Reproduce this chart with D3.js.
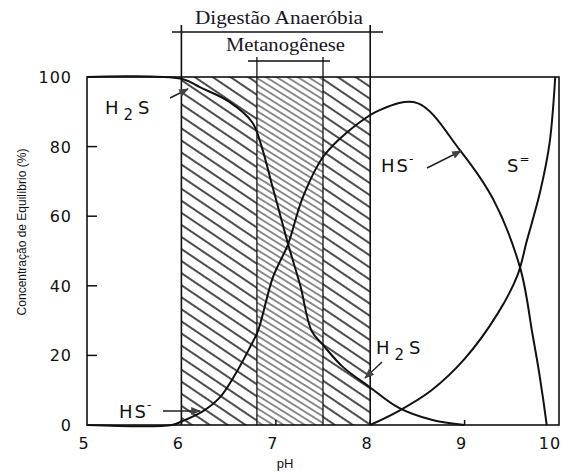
<!DOCTYPE html>
<html>
<head>
<meta charset="utf-8">
<script src="https://cdn.jsdelivr.net/npm/d3@7"></script>
<style>
  body { margin: 0; background: #fff; }
  text { font-family: "DejaVu Sans", "Liberation Sans", Arial, sans-serif; fill: #111; }
  .serif { font-family: "Liberation Serif", "Times New Roman", serif; fill: #1a1424; }
  .title { font-family: "Liberation Sans", Arial, sans-serif; }
</style>
</head>
<body>
<svg></svg>
<script>
const width = 565;
const height = 473;

// curve readings: [pH, % of equilibrium]
const h2s = [[5.0, 100], [6.0, 99.5], [6.2, 97], [6.5, 93], [6.75, 87], [6.85, 80], [6.95, 70],
  [7.04, 61], [7.13, 52], [7.26, 40], [7.38, 27], [7.5, 23], [7.71, 16.7], [7.99, 11],
  [8.3, 5], [8.65, 1.5], [9.0, 0]];
const hs = [[5.0, 0], [5.9, 0], [6.0, 1], [6.23, 4], [6.41, 8], [6.58, 15], [6.72, 22], [6.81, 27],
  [6.97, 42.5], [7.13, 52], [7.28, 65], [7.5, 77], [7.75, 84], [8.1, 90.5], [8.5, 92.5],
  [8.95, 79], [9.3, 65], [9.59, 45], [9.72, 26], [9.79, 15], [9.87, 0]];
const s2 = [[8.0, 0], [8.3, 4], [8.65, 10], [9.0, 19], [9.35, 32], [9.56, 43], [9.66, 53],
  [9.8, 67], [9.9, 81], [9.96, 100]];

const xTicks = [5, 6, 7, 8, 9, 10];
const yTicks = [0, 20, 40, 60, 80, 100];
const digestao = [6, 8];
const metano = [6.8, 7.5];

const svg = d3.select("svg")
    .attr("width", width)
    .attr("height", height);

const x = d3.scaleLinear().domain([5, 10]).range([87, 559]);
const y = d3.scaleLinear().domain([0, 100]).range([425, 77]);

// hatch patterns
const defs = svg.append("defs");
defs.append("pattern")
    .attr("id", "hatchWide")
    .attr("patternUnits", "userSpaceOnUse")
    .attr("width", 10).attr("height", 10)
    .attr("patternTransform", "rotate(34)")
  .append("line")
    .attr("x1", 0).attr("y1", 5).attr("x2", 10).attr("y2", 5)
    .attr("stroke", "#111").attr("stroke-width", 1.5);
defs.append("pattern")
    .attr("id", "hatchDense")
    .attr("patternUnits", "userSpaceOnUse")
    .attr("width", 5.6).attr("height", 5.6)
    .attr("patternTransform", "rotate(32)")
  .append("line")
    .attr("x1", 0).attr("y1", 2.8).attr("x2", 5.6).attr("y2", 2.8)
    .attr("stroke", "#333").attr("stroke-width", 1.1);

const yTop = y(100), yBottom = y(0);

svg.append("rect")
    .attr("x", x(digestao[0])).attr("y", yTop)
    .attr("width", x(metano[0]) - x(digestao[0])).attr("height", yBottom - yTop)
    .attr("fill", "url(#hatchWide)");
svg.append("rect")
    .attr("x", x(metano[1])).attr("y", yTop)
    .attr("width", x(digestao[1]) - x(metano[1])).attr("height", yBottom - yTop)
    .attr("fill", "url(#hatchWide)");
svg.append("rect")
    .attr("x", x(metano[0])).attr("y", yTop)
    .attr("width", x(metano[1]) - x(metano[0])).attr("height", yBottom - yTop)
    .attr("fill", "url(#hatchDense)");

// frame
svg.append("rect")
    .attr("x", x(5)).attr("y", yTop)
    .attr("width", x(10) - x(5)).attr("height", yBottom - yTop)
    .attr("fill", "none").attr("stroke", "#111").attr("stroke-width", 1.6);

// inward ticks
svg.selectAll(".ytick")
    .data(yTicks.filter(d => d > 0 && d < 100))
    .enter().append("line")
    .attr("x1", x(5)).attr("x2", x(5) + 10)
    .attr("y1", d => y(d)).attr("y2", d => y(d))
    .attr("stroke", "#111").attr("stroke-width", 1.5);
svg.selectAll(".xtick")
    .data(xTicks.filter(d => d > 5 && d < 10))
    .enter().append("line")
    .attr("x1", d => x(d)).attr("x2", d => x(d))
    .attr("y1", yBottom).attr("y2", yBottom - 5)
    .attr("stroke", "#111").attr("stroke-width", 1.5);

svg.selectAll(".ylab")
    .data(yTicks)
    .enter().append("text")
    .attr("x", 72).attr("y", d => y(d) + 6)
    .attr("text-anchor", "end")
    .attr("font-size", 16)
    .attr("letter-spacing", 1)
    .text(d => d);
svg.selectAll(".xlab")
    .data(xTicks)
    .enter().append("text")
    .attr("x", d => Math.min(x(d) - 3, 550)).attr("y", 449)
    .attr("text-anchor", "middle")
    .attr("font-size", 16)
    .attr("letter-spacing", 1)
    .text(d => d);

svg.append("text").attr("class", "title")
    .attr("x", 285).attr("y", 468)
    .attr("text-anchor", "middle")
    .attr("font-size", 13)
    .text("pH");
svg.append("text").attr("class", "title")
    .attr("transform", "translate(26,232) rotate(-90)")
    .attr("text-anchor", "middle")
    .attr("font-size", 12)
    .text("Concentração de Equilíbrio (%)");

// brackets
const bk = "#111";
svg.append("line").attr("x1", 172).attr("x2", 383).attr("y1", 32).attr("y2", 32)
    .attr("stroke", bk).attr("stroke-width", 1.6);
digestao.forEach(p => svg.append("line")
    .attr("x1", x(p)).attr("x2", x(p)).attr("y1", 25).attr("y2", yBottom)
    .attr("stroke", bk).attr("stroke-width", 1.6));
svg.append("line").attr("x1", 248).attr("x2", 330).attr("y1", 61).attr("y2", 61)
    .attr("stroke", bk).attr("stroke-width", 1.6);
metano.forEach(p => svg.append("line")
    .attr("x1", x(p)).attr("x2", x(p)).attr("y1", 57).attr("y2", yBottom)
    .attr("stroke", bk).attr("stroke-width", 1.3));

svg.append("text").attr("class", "serif")
    .attr("x", 195).attr("y", 24)
    .attr("font-size", 19)
    .attr("textLength", 168).attr("lengthAdjust", "spacingAndGlyphs")
    .text("Digestão Anaeróbia");
svg.append("text").attr("class", "serif")
    .attr("x", 226).attr("y", 51)
    .attr("font-size", 19)
    .attr("textLength", 119).attr("lengthAdjust", "spacingAndGlyphs")
    .text("Metanogênese");

// curves
const line = d3.line()
    .x(d => x(d[0]))
    .y(d => y(d[1]))
    .curve(d3.curveCatmullRom.alpha(0.5));

[h2s, hs, s2].forEach(series => {
    svg.append("path")
        .datum(series)
        .attr("d", line)
        .attr("fill", "none")
        .attr("stroke", "#111")
        .attr("stroke-width", 2);
});

// labels and arrows
defs.append("marker")
    .attr("id", "arrow")
    .attr("viewBox", "0 0 10 10")
    .attr("refX", 9).attr("refY", 5)
    .attr("markerWidth", 7).attr("markerHeight", 7)
    .attr("orient", "auto")
  .append("path")
    .attr("d", "M0,1 L10,5 L0,9 Z")
    .attr("fill", "#444");

function arrow(x1, y1, x2, y2) {
    svg.append("line")
        .attr("x1", x1).attr("y1", y1).attr("x2", x2).attr("y2", y2)
        .attr("stroke", "#222").attr("stroke-width", 1.4)
        .attr("marker-end", "url(#arrow)");
}

function h2sLabel(px, py) {
    const t = svg.append("text").attr("x", px).attr("y", py).attr("font-size", 18);
    t.append("tspan").text("H");
    t.append("tspan").attr("dx", 5).attr("dy", 6).attr("font-size", 15).text("2");
    t.append("tspan").attr("dx", 5).attr("dy", -6).text("S");
}

function ionLabel(px, py, base, sup) {
    const t = svg.append("text").attr("x", px).attr("y", py)
        .attr("font-size", 18).attr("letter-spacing", 2);
    t.append("tspan").text(base);
    t.append("tspan").attr("dx", -1).attr("dy", -9).attr("font-size", 12).text(sup);
}

h2sLabel(105, 114);
arrow(170, 98, 188, 89);

ionLabel(381, 172, "HS", "-");
arrow(427, 168, 461, 151);

ionLabel(507, 172, "S", "=");

h2sLabel(376, 354);
arrow(382, 362, 365, 378);

ionLabel(119, 418, "HS", "-");
arrow(163, 411, 200, 411);
</script>
</body>
</html>
